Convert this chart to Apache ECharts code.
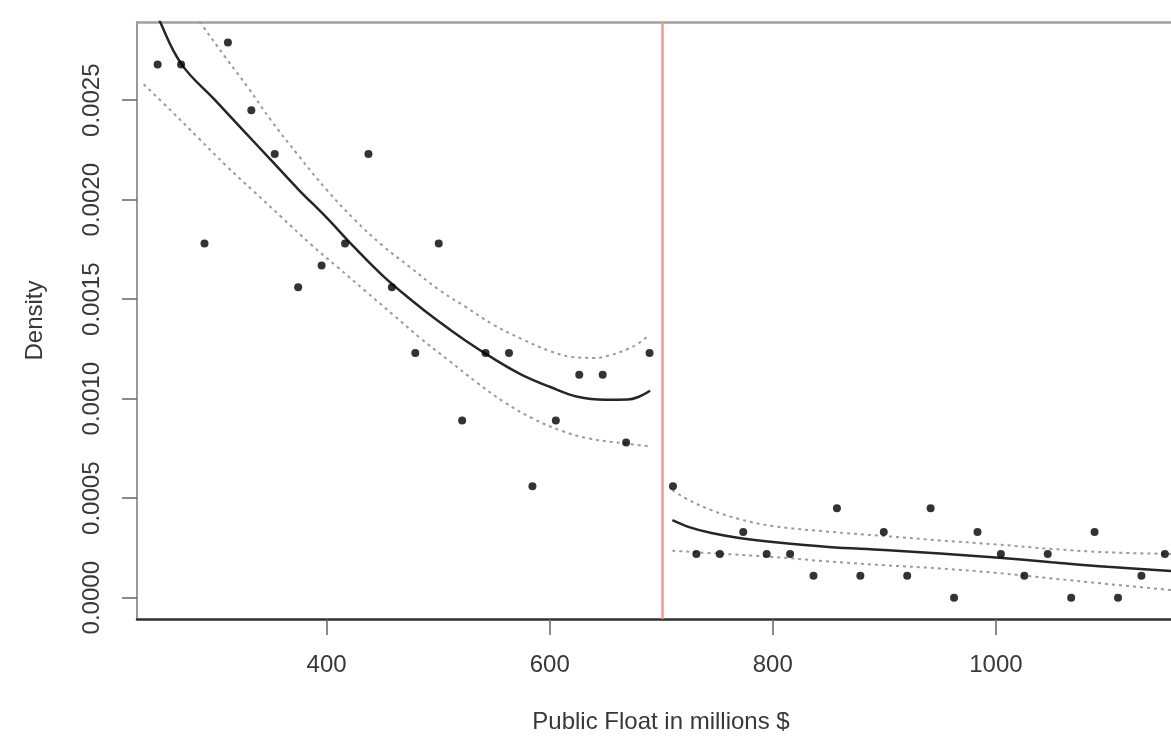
<!DOCTYPE html>
<html>
<head>
<meta charset="utf-8">
<title>Density</title>
<script src="https://cdn.jsdelivr.net/npm/echarts@6/dist/echarts.min.js"></script>
<style>
    html, body { margin: 0; padding: 0; background: #fff; }
    #chart { width: 1171px; height: 740px; }
</style>
</head>
<body>
<div id="chart"></div>
<script>
// histogram bins (x = bin centre, y = density)
const binLeftX = [248.5, 269.5, 290.5, 311.5, 332.5, 353.5, 374.5, 395.5, 416.5, 437.5, 458.5,
    479.5, 500.5, 521.5, 542.5, 563.5, 584.5, 605.5, 626.5, 647.5, 668.5, 689.5];
const binLeftY = [0.00268, 0.00268, 0.00178, 0.00279, 0.00245, 0.00223, 0.00156, 0.00167, 0.00178, 0.00223, 0.00156,
    0.00123, 0.00178, 0.00089, 0.00123, 0.00123, 0.00056, 0.00089, 0.00112, 0.00112, 0.00078, 0.00123];
const binRightX = [710.5, 731.5, 752.5, 773.5, 794.5, 815.5, 836.5, 857.5, 878.5, 899.5, 920.5,
    941.5, 962.5, 983.5, 1004.5, 1025.5, 1046.5, 1067.5, 1088.5, 1109.5, 1130.5, 1151.5];
const binRightY = [0.00056, 0.00022, 0.00022, 0.00033, 0.00022, 0.00022, 0.00011, 0.00045, 0.00011, 0.00033, 0.00011,
    0.00045, 0, 0.00033, 0.00022, 0.00011, 0.00022, 0, 0.00033, 0, 0.00011, 0.00022];

// fitted density + confidence band, left of cutoff
const fitLeftX = [236, 251, 270, 300, 325, 350, 375, 400, 425, 450, 475, 500, 525, 550, 575, 600, 625, 650, 670, 680, 690];
const fitLeftY = [0.00310, 0.00289, 0.00268, 0.00250, 0.00235, 0.00220, 0.00205, 0.00191, 0.00176, 0.00162, 0.00150,
    0.00139, 0.00129, 0.00120, 0.00112, 0.00106, 0.00101, 0.000995, 0.000996, 0.00101, 0.00104];
const upperLeftX = [236, 260, 288, 310, 330, 350, 375, 400, 425, 450, 475, 500, 525, 550, 575, 600, 620, 640, 655, 670, 680, 689];
const upperLeftY = [0.00330, 0.00310, 0.00288, 0.00271, 0.00256, 0.00240, 0.00222, 0.00205, 0.00190, 0.00177, 0.00166,
    0.00155, 0.00146, 0.00137, 0.00130, 0.00124, 0.00121, 0.001205, 0.00122, 0.00125, 0.00128, 0.00132];
const lowerLeftX = [236, 260, 285, 310, 335, 360, 385, 410, 435, 460, 485, 510, 535, 560, 585, 610, 635, 660, 690];
const lowerLeftY = [0.00258, 0.00245, 0.00231, 0.00217, 0.00204, 0.00191, 0.00178, 0.00166, 0.00154, 0.00142, 0.00130,
    0.00119, 0.00108, 0.00098, 0.00090, 0.00084, 0.00080, 0.00078, 0.00076];

// right of cutoff
const fitRightX = [710, 725, 745, 770, 800, 850, 900, 950, 1000, 1050, 1100, 1160];
const fitRightY = [0.00039, 0.000355, 0.000325, 0.00030, 0.00028, 0.000255, 0.00024, 0.000222, 0.000202, 0.000178,
    0.000155, 0.000133];
const upperRightX = [710, 725, 745, 770, 800, 850, 900, 950, 1000, 1050, 1100, 1160];
const upperRightY = [0.00054, 0.00049, 0.00044, 0.000395, 0.00036, 0.000332, 0.00031, 0.000288, 0.000268, 0.000245,
    0.000228, 0.00022];
const lowerRightX = [710, 750, 800, 850, 900, 950, 1000, 1050, 1100, 1160];
const lowerRightY = [0.000236, 0.000222, 0.000205, 0.000182, 0.000163, 0.000147, 0.000125, 0.000097, 0.000069, 0.000037];

const cutoff = 701;
const xTicks = [400, 600, 800, 1000];
const yTicks = [0, 0.0005, 0.001, 0.0015, 0.002, 0.0025];

function pairs(xs, ys) {
    return xs.map((x, i) => [x, ys[i]]);
}

const font = "'Liberation Sans', Arial, sans-serif";
const textColor = '#383838';

(function () {
    let myChart = echarts.init(document.getElementById('chart'));

    function curve(xs, ys, dashed) {
        return {
            type: 'line',
            data: pairs(xs, ys),
            showSymbol: false,
            smooth: 0.4,
            silent: true,
            z: dashed ? 2 : 3,
            lineStyle: dashed
                ? { color: '#9a9a9a', width: 2, type: [3, 4] }
                : { color: '#262626', width: 2.5 }
        };
    }

    let option = {
        animation: false,
        backgroundColor: '#fff',
        grid: {
            left: 137,
            right: 0,
            top: 22,
            bottom: 121
        },
        xAxis: [
            {
                type: 'value',
                min: 230,
                max: 1157,
                position: 'bottom',
                axisLine: { onZero: false, lineStyle: { color: '#303030', width: 2.5 } },
                axisTick: {
                    customValues: xTicks,
                    length: 16,
                    lineStyle: { color: '#666', width: 1.5 }
                },
                axisLabel: {
                    customValues: xTicks,
                    margin: 34,
                    color: textColor,
                    fontSize: 24,
                    fontFamily: font,
                    formatter: v => String(v)
                },
                splitLine: { show: false }
            },
            {
                // top border of the box
                type: 'value',
                min: 230,
                max: 1157,
                position: 'top',
                axisLine: { onZero: false, lineStyle: { color: '#a0a0a0', width: 2.5 } },
                axisTick: { show: false },
                axisLabel: { show: false },
                splitLine: { show: false }
            }
        ],
        yAxis: {
            type: 'value',
            min: -0.000107,
            max: 0.002893,
            name: 'Density',
            nameLocation: 'middle',
            nameGap: 90,
            nameTextStyle: { color: textColor, fontSize: 24, fontFamily: font },
            axisLine: { show: true, onZero: false, lineStyle: { color: '#999', width: 2 } },
            axisTick: {
                show: true,
                customValues: yTicks,
                length: 15,
                lineStyle: { color: '#666', width: 1.5 }
            },
            axisLabel: {
                customValues: yTicks,
                rotate: 90,
                margin: 33,
                color: textColor,
                fontSize: 24,
                fontFamily: font,
                formatter: v => v.toFixed(4)
            },
            splitLine: { show: false }
        },
        graphic: [
            {
                type: 'text',
                x: 661,
                y: 722,
                style: {
                    text: 'Public Float in millions $',
                    fill: textColor,
                    font: '24px ' + font,
                    textAlign: 'center',
                    textVerticalAlign: 'middle'
                }
            }
        ],
        series: [
            {
                name: 'cutoff',
                type: 'line',
                data: [],
                markLine: {
                    silent: true,
                    symbol: ['none', 'none'],
                    label: { show: false },
                    lineStyle: { color: '#f79595', width: 2.5, type: 'solid' },
                    data: [{ xAxis: cutoff }]
                }
            },
            curve(upperLeftX, upperLeftY, true),
            curve(lowerLeftX, lowerLeftY, true),
            curve(fitLeftX, fitLeftY, false),
            curve(upperRightX, upperRightY, true),
            curve(lowerRightX, lowerRightY, true),
            curve(fitRightX, fitRightY, false),
            {
                name: 'bins',
                type: 'scatter',
                symbol: 'circle',
                symbolSize: 8,
                z: 5,
                itemStyle: { color: '#000' },
                data: pairs(binLeftX, binLeftY).concat(pairs(binRightX, binRightY))
            }
        ]
    };
    myChart.setOption(option);

    window.addEventListener('resize', function () {
        myChart.resize();
    });
})();
</script>
</body>
</html>
